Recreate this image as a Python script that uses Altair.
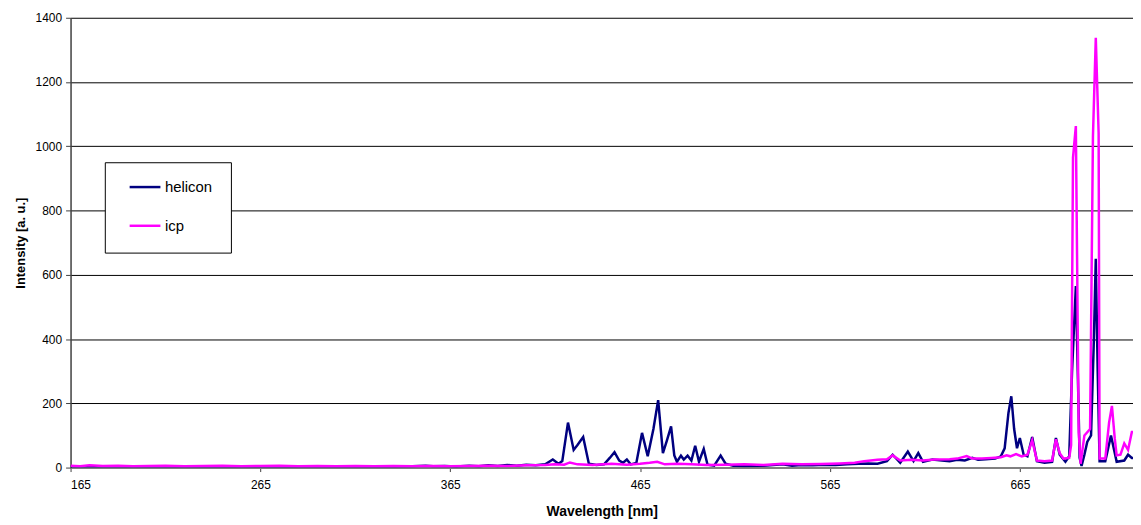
import altair as alt
import pandas as pd

# ---- data (wavelength in nm, intensity in a.u.) ----
helicon_nm = [165, 172, 180, 188, 196, 205, 215, 225, 235, 245, 255, 265, 275, 285, 295, 305, 315, 325, 335,
              345, 352, 356, 362, 368, 375, 380, 385, 390, 395, 400, 405, 410, 415, 419, 422, 424, 427, 430,
              432, 435, 438, 442, 446, 449, 451.5, 454, 456, 458, 460, 463, 466, 469, 472, 474.5, 477, 479,
              481.3, 483, 484.4, 486.5, 488, 490, 492, 494, 496, 498.5, 500.5, 504, 507.4, 510, 514, 520,
              530, 540, 545, 550, 556, 562, 568, 574, 580, 585, 590, 595, 598, 602, 606, 609, 611.5, 614,
              619, 624, 628, 632, 636, 640, 643, 647, 652, 655, 657, 659, 660.5, 662, 663.5, 665, 667, 669,
              671.5, 674, 678, 682, 684, 686, 689, 691, 692.5, 694.5, 695.5, 696.5, 697.5, 699, 700.5, 702.5,
              704, 705, 706, 707, 710, 713, 716, 720, 722, 724, 726]
helicon_val = [3, 4, 3, 4, 3, 3, 4, 3, 3, 4, 3, 3, 4, 3, 3, 4, 3, 4, 3,
               4, 6, 4, 5, 3, 6, 4, 7, 5, 8, 6, 9, 7, 10, 25, 12, 20, 140, 55,
               70, 95, 12, 8, 10, 30, 48, 22, 15, 25, 10, 14, 108, 35, 120, 210, 45, 82,
               128, 38, 18, 37, 25, 37, 22, 68, 18, 58, 9, 6, 37, 12, 6, 5,
               6, 10, 6, 8, 7, 9, 8, 10, 12, 13, 12, 20, 40, 15, 50, 20, 45, 18,
               25, 22, 20, 24, 22, 30, 24, 26, 28, 35, 60, 170, 222, 120, 60, 92, 40, 35,
               95, 20, 15, 18, 92, 40, 18, 35, 300, 565, 300, 30, 5, 40, 80, 100,
               400, 650, 300, 20, 20, 100, 18, 22, 40, 30, 30]

icp_nm = [165, 170, 175, 182, 190, 198, 206, 215, 225, 235, 245, 255, 265, 275, 285, 295, 305, 315, 325,
          335, 345, 355, 365, 375, 385, 395, 405, 415, 420, 425, 428, 432, 440, 450, 458, 465, 470, 474,
          478, 485, 492, 500, 510, 520, 530, 540, 550, 560, 570, 578, 583, 590, 595, 598, 602, 608, 614,
          620, 628, 632, 637, 640, 645, 650, 655, 658, 660, 663, 666, 669, 671.5, 674, 678, 682, 684, 686,
          688, 691, 692, 693, 694.5, 696, 697, 699, 702, 703.5, 705, 706.5, 707, 710, 712, 713.5, 715,
          716, 718, 720, 722, 724, 726]
icp_val = [6, 4, 7, 5, 6, 4, 5, 6, 4, 5, 6, 4, 5, 6, 4, 5, 4, 5, 4,
           5, 4, 5, 4, 5, 6, 5, 7, 8, 10, 9, 16, 10, 8, 12, 9, 12, 15, 18,
           10, 12, 10, 8, 9, 10, 8, 12, 10, 11, 13, 15, 20, 24, 26, 38, 22, 24, 22,
           25, 26, 28, 36, 28, 28, 30, 32, 38, 35, 42, 35, 40, 85, 22, 20, 22, 88, 45,
           28, 30, 70, 965, 1063, 110, 12, 100, 120, 1030, 1338, 1040, 28, 28, 140, 192, 90,
           38, 40, 75, 55, 111, 111]

series_names = ["helicon", "icp"]
series_colors = ["#000080", "#FF00FF"]
x_ticks = [165, 265, 365, 465, 565, 665]
y_ticks = [0, 200, 400, 600, 800, 1000, 1200, 1400]

df = pd.concat([
    pd.DataFrame({"nm": helicon_nm, "val": helicon_val, "series": "helicon", "ord": range(len(helicon_nm))}),
    pd.DataFrame({"nm": icp_nm, "val": icp_val, "series": "icp", "ord": range(len(icp_nm))}),
])

FONT = "Liberation Sans"

lines = alt.Chart(df).mark_line(strokeWidth=2.5, clip=True).encode(
    x=alt.X("nm:Q",
            scale=alt.Scale(domain=[165, 724.6], nice=False, zero=False),
            axis=alt.Axis(values=x_ticks, format="d", title="Wavelength [nm]", grid=False,
                          tickSize=4, tickColor="#404040", domainColor="#808080", domainWidth=2,
                          labelFontSize=12, labelPadding=8, labelColor="black",
                          titleFontSize=14, titleFontWeight="bold", titlePadding=14, titleColor="black")),
    y=alt.Y("val:Q",
            scale=alt.Scale(domain=[0, 1400], nice=False),
            axis=alt.Axis(values=y_ticks, format="d", title="Intensity [a. u.]", grid=True,
                          gridColor="black", gridWidth=1, tickSize=5, tickColor="#404040",
                          domainColor="#404040", domainWidth=1.5, labelFontSize=12, labelPadding=4,
                          labelColor="black", titleFontSize=13, titleFontWeight="bold",
                          titlePadding=8, titleColor="black")),
    color=alt.Color("series:N",
                    scale=alt.Scale(domain=series_names, range=series_colors),
                    legend=alt.Legend(orient="none", legendX=58, legendY=153.5, title=None,
                                      symbolType="stroke", symbolSize=961, symbolStrokeWidth=2.5,
                                      labelFontSize=15, labelOffset=3, rowPadding=14, padding=0,
                                      symbolOffset=0, labelFont=FONT, labelColor="black")),
    order=alt.Order("ord:Q"),
)

legend_box = alt.Chart(alt.Data(values=[{}])).mark_rect(fill="white", stroke="black", strokeWidth=1).encode(
    x=alt.value(35), x2=alt.value(162), y=alt.value(146), y2=alt.value(237)
)

chart = alt.layer(lines, legend_box).properties(
    width=1070, height=453,
    autosize=alt.AutoSizeParams(type="none"),
    padding={"left": 63, "top": 8, "right": 0, "bottom": 56},
).configure(font=FONT).configure_view(strokeWidth=0)

chart.save("out.html", embed_options={"renderer": "svg", "actions": False})
